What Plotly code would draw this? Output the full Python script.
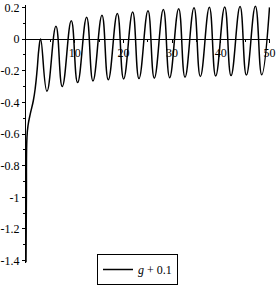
import plotly.graph_objects as go

# transient start
start_x = [0.0, 0.08, 0.2, 0.45, 0.9, 1.5, 1.9, 2.3, 2.65]
start_y = [-1.41, -1.0, -0.62, -0.54, -0.47, -0.39, -0.31, -0.19, -0.06]

# oscillation extrema
peak_x = [3.0, 6.15, 9.3, 12.45, 15.6, 18.75, 21.9, 25.05, 28.2, 31.35, 34.5, 37.65, 40.8, 43.95, 47.1]
peak_y = [0.0, 0.08, 0.115, 0.138, 0.15, 0.162, 0.17, 0.178, 0.186, 0.192, 0.197, 0.2, 0.203, 0.205, 0.207]
trough_x = [4.3, 7.45, 10.6, 13.75, 16.9, 20.05, 23.2, 26.35, 29.5, 32.65, 35.8, 38.95, 42.1, 45.25, 48.4]
trough_y = [-0.33, -0.30, -0.275, -0.265, -0.258, -0.252, -0.25, -0.247, -0.244, -0.241, -0.237, -0.234, -0.231, -0.228, -0.226]
end_x = [50.0]
end_y = [0.2]

xs = list(start_x)
ys = list(start_y)
for px, py, tx, ty in zip(peak_x, peak_y, trough_x, trough_y):
    xs += [px, tx]
    ys += [py, ty]
xs += end_x
ys += end_y

y_ticks = [0.2, 0, -0.2, -0.4, -0.6, -0.8, -1, -1.2, -1.4]
y_labels = ["0.2", "0", "-0.2", "-0.4", "-0.6", "-0.8", "-1", "-1.2", "-1.4"]
x_ticks = [10, 20, 30, 40, 50]
x_labels = ["10", "20", "30", "40", "50"]

yr = [-1.415, 0.215]
xr = [0, 50.1]

font = dict(family="Liberation Serif", size=12, color="black")

fig = go.Figure()
fig.add_trace(go.Scatter(x=xs, y=ys, mode="lines", name="<i>g</i> + 0.1",
                         line=dict(color="black", width=1.5, shape="spline", smoothing=1.3)))

fig.update_layout(
    width=279, height=289,
    margin=dict(l=26, r=9, t=5, b=26, autoexpand=False),
    paper_bgcolor="white", plot_bgcolor="white",
    font=font,
    showlegend=True,
    legend=dict(xref="container", yref="container", x=97 / 279, xanchor="left",
                y=(289 - 285) / 289, yanchor="bottom",
                bordercolor="black", borderwidth=1, font=font,
                itemwidth=30, tracegroupgap=0),
    xaxis=dict(range=xr, anchor="free", position=(0 - yr[0]) / (yr[1] - yr[0]),
               automargin=False,
               showline=True, linecolor="black", linewidth=1,
               showgrid=False, zeroline=False,
               tickvals=x_ticks, ticktext=x_labels, ticks="outside", ticklen=3,
               tickcolor="black", tickfont=font,
               minor=dict(tickvals=[5, 15, 25, 35, 45], ticks="outside", ticklen=2, tickcolor="black")),
    yaxis=dict(range=yr, automargin=False, showline=True, linecolor="black", linewidth=1,
               showgrid=False, zeroline=False,
               tickvals=y_ticks, ticktext=y_labels, ticks="outside", ticklen=3,
               tickcolor="black", tickfont=font,
               minor=dict(tickvals=[0.1, -0.1, -0.3, -0.5, -0.7, -0.9, -1.1, -1.3], ticks="outside", ticklen=2, tickcolor="black")),
)

fig.write_html("out.html")
